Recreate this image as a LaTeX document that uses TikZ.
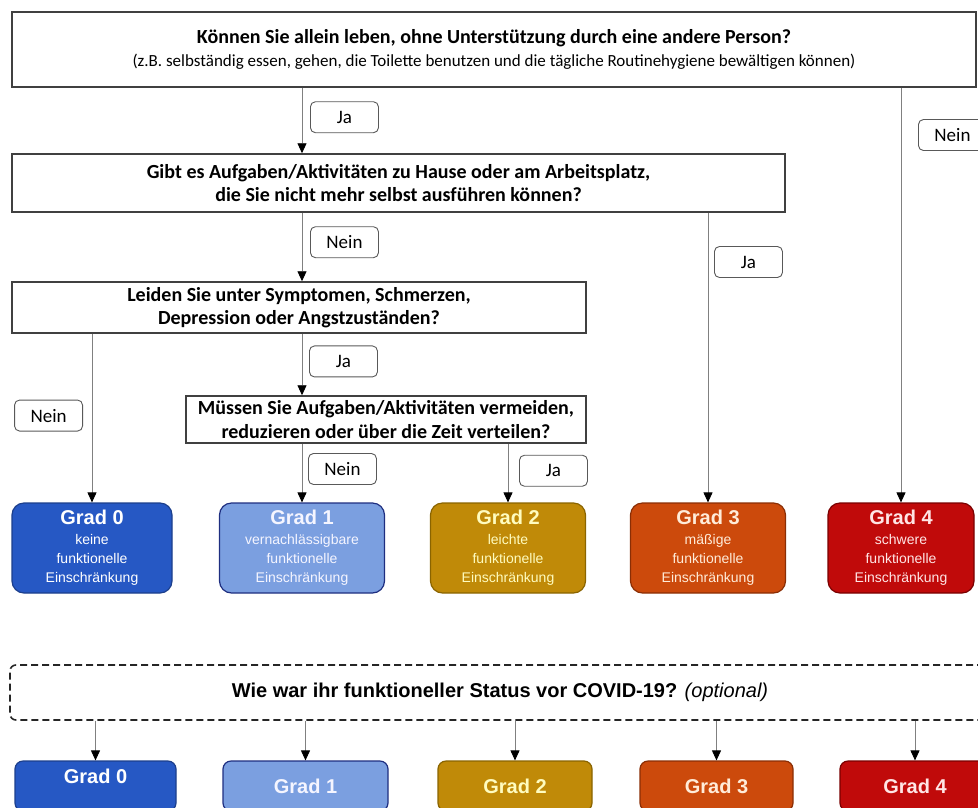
\documentclass[tikz,border=0pt]{standalone}
\usepackage{fontspec}
\setmainfont{Carlito}
\newfontfamily\arialfont{Liberation Sans}
\usetikzlibrary{arrows.meta,positioning}
\definecolor{gradA}{HTML}{2658C4}
\definecolor{gradAline}{HTML}{1C3F8C}
\definecolor{gradB}{HTML}{7B9FE0}
\definecolor{gradBline}{HTML}{1E2E80}
\definecolor{gradC}{HTML}{C08A08}
\definecolor{gradCline}{HTML}{8A6400}
\definecolor{gradD}{HTML}{CC4A0C}
\definecolor{gradDline}{HTML}{8A2E05}
\definecolor{gradE}{HTML}{C00A0A}
\definecolor{gradEline}{HTML}{7A0000}

\begin{document}
\begin{tikzpicture}[x=1pt, y=-1pt,
    question/.style={draw=black!75, line width=1.5pt, fill=white, inner sep=0pt, align=center, font=\fontsize{20}{23.5}\selectfont\bfseries},
    answer/.style={draw=black!65, line width=0.9pt, rounded corners=5pt, fill=white, minimum width=68pt, minimum height=31pt, inner sep=0pt, font=\fontsize{19}{20}\selectfont},
    grade/.style={rounded corners=12pt, line width=1.2pt, minimum height=90pt, inner sep=0pt, align=center, font=\arialfont\fontsize{14}{19}\selectfont},
    prevgrade/.style={rounded corners=8pt, line width=1.2pt, minimum height=50pt, inner sep=0pt, font=\arialfont\fontsize{20}{22}\selectfont\bfseries},
    flow/.style={draw=black!50, line width=0.9pt, -{Triangle[length=10pt, width=9pt, color=black]}}]
  \useasboundingbox (0,0) rectangle (978,807);

  % questions
  \node (q1) at (494,49.5) [question, minimum width=964pt, minimum height=75pt]
    {Können Sie allein leben, ohne Unterstützung durch eine andere Person?\\
     {\mdseries\fontsize{17}{20}\selectfont (z.B. selbständig essen, gehen, die Toilette benutzen und die tägliche Routinehygiene bewältigen können)}};
  \node (q2) at (398.5,183) [question, minimum width=773pt, minimum height=58pt]
    {Gibt es Aufgaben/Aktivitäten zu Hause oder am Arbeitsplatz,\\ die Sie nicht mehr selbst ausführen können?};
  \node (q3) at (299,307.5) [question, minimum width=574pt, minimum height=51pt]
    {Leiden Sie unter Symptomen, Schmerzen,\\ Depression oder Angstzuständen?};
  \node (q4) at (386,419.5) [question, minimum width=400pt, minimum height=47pt]
    {Müssen Sie Aufgaben/Aktivitäten vermeiden,\\ reduzieren oder über die Zeit verteilen?};

  % grades
  \node (g0) at (92,548) [grade, minimum width=160pt, fill=gradA, draw=gradAline, text=white]
    {{\fontsize{20}{22}\selectfont\bfseries Grad 0}\\[1pt] keine\\ funktionelle\\ Einschränkung};
  \node (g1) at (302,548) [grade, minimum width=165pt, fill=gradB, draw=gradBline, text=white!96!blue]
    {{\fontsize{20}{22}\selectfont\bfseries Grad 1}\\[1pt] vernachlässigbare\\ funktionelle\\ Einschränkung};
  \node (g2) at (508,548) [grade, minimum width=155pt, fill=gradC, draw=gradCline, text=yellow!25!white]
    {{\fontsize{20}{22}\selectfont\bfseries Grad 2}\\[1pt] leichte\\ funktionelle\\ Einschränkung};
  \node (g3) at (708,548) [grade, minimum width=155pt, fill=gradD, draw=gradDline, text=orange!15!white]
    {{\fontsize{20}{22}\selectfont\bfseries Grad 3}\\[1pt] mäßige\\ funktionelle\\ Einschränkung};
  \node (g4) at (901,548) [grade, minimum width=146pt, fill=gradE, draw=gradEline, text=red!10!white]
    {{\fontsize{20}{22}\selectfont\bfseries Grad 4}\\[1pt] schwere\\ funktionelle\\ Einschränkung};

  \draw[flow] (q1.south -| g1.north) -- node (ja1) [answer, pos=.45, right=8pt] {Ja} (q2.north -| g1.north);
  \draw[flow] (q1.south -| g4.north) -- node (nein1) [answer, pos=.114, right=17pt] {Nein} (g4.north);
  \draw[flow] (q2.south -| g1.north) -- node (nein2) [answer, pos=.43, right=8pt] {Nein} (q3.north -| g1.north);
  \draw[flow] (q2.south -| g3.north) -- node (ja2) [answer, pos=.17, right=6pt] {Ja} (g3.north);
  \draw[flow] (q3.south -| g1.north) -- node (ja3) [answer, pos=.45, right=7pt] {Ja} (q4.north -| g1.north);
  \draw[flow] (q3.south -| g0.north) -- node (nein3) [answer, pos=.485, left=9pt] {Nein} (g0.north);
  \draw[flow] (q4.south -| g1.north) -- node (nein4) [answer, pos=.43, right=6pt] {Nein} (g1.north);
  \draw[flow] (q4.south -| g2.north) -- node (ja4) [answer, pos=.46, right=11pt] {Ja} (g2.north);

  % status before COVID-19
  \node (prev) at (500,692.5) [draw=black!85, line width=1.6pt, dash pattern=on 7pt off 4pt, rounded corners=6pt,
    minimum width=980pt, minimum height=55pt, inner sep=0pt, font=\arialfont\fontsize{20}{22}\selectfont]
    {\textbf{Wie war ihr funktioneller Status vor COVID-19?} \textit{(optional)}};
  \node (b0) at (95.5,786) [prevgrade, minimum width=161pt, fill=gradA, draw=gradAline, text=white] {\raisebox{20pt}{Grad 0}};
  \node (b1) at (305.5,786) [prevgrade, minimum width=165pt, fill=gradB, draw=gradBline, text=white!96!blue] {Grad 1};
  \node (b2) at (515,786) [prevgrade, minimum width=154pt, fill=gradC, draw=gradCline, text=yellow!25!white] {Grad 2};
  \node (b3) at (716.5,786) [prevgrade, minimum width=153pt, fill=gradD, draw=gradDline, text=orange!15!white] {Grad 3};
  \node (b4) at (915,786) [prevgrade, minimum width=150pt, fill=gradE, draw=gradEline, text=red!10!white] {Grad 4};
  \foreach \b in {b0,b1,b2,b3,b4}
    \draw[flow] (prev.south -| \b.north) -- (\b.north);
\end{tikzpicture}
\end{document}
